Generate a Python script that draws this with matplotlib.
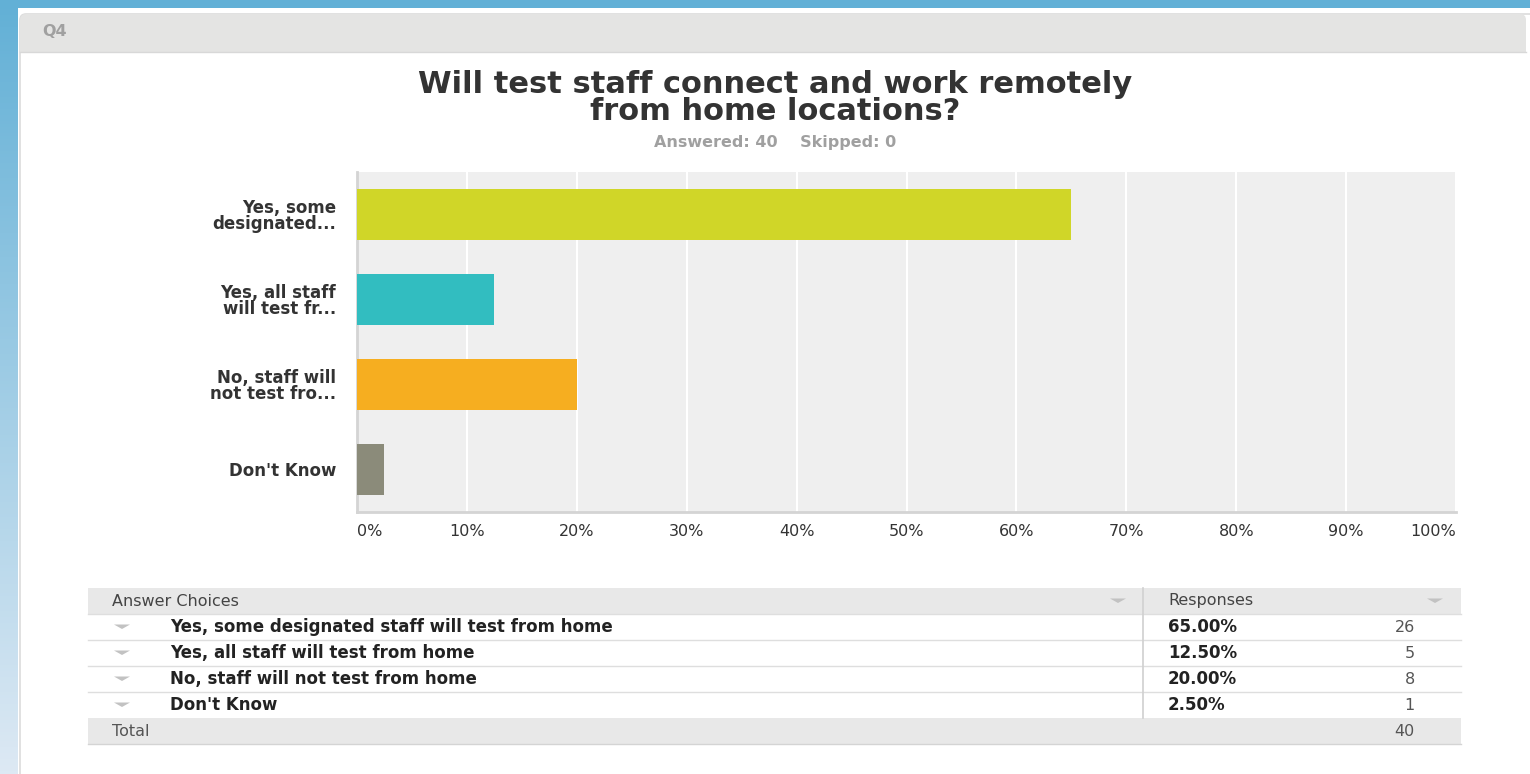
import matplotlib.pyplot as plt
import numpy as np
from matplotlib.patches import Rectangle, FancyBboxPatch, Polygon

plt.rcParams['font.family'] = 'DejaVu Sans'

# survey data
short_labels = ['Yes, some\ndesignated...', 'Yes, all staff\nwill test fr...',
                'No, staff will\nnot test fro...', "Don't Know"]
full_labels = ['Yes, some designated staff will test from home',
               'Yes, all staff will test from home',
               'No, staff will not test from home',
               "Don't Know"]
percents = [65.0, 12.5, 20.0, 2.5]
counts = [26, 5, 8, 1]
bar_colors = ['#d0d628', '#32bdc0', '#f6ae20', '#8b8b7a']
answered = 40
skipped = 0
x_ticks = [0, 10, 20, 30, 40, 50, 60, 70, 80, 90, 100]

W, H = 1530, 774
fig = plt.figure(figsize=(W / 100, H / 100), dpi=100)

# page background drawn in pixel coordinates
bg = fig.add_axes([0, 0, 1, 1])
bg.set_xlim(0, W)
bg.set_ylim(H, 0)
bg.axis('off')

grad = np.linspace(0, 1, 256).reshape(-1, 1)
c_top = np.array([0x62, 0xb0, 0xd6]) / 255
c_bot = np.array([0xdd, 0xe9, 0xf4]) / 255
img = c_top + (c_bot - c_top) * grad[:, :, None]
bg.imshow(img, extent=[0, 18, H, 0], aspect='auto', zorder=0)
bg.add_patch(Rectangle((0, 0), W, 8, color='#62b0d6', zorder=1, lw=0))

# question card
bg.add_patch(FancyBboxPatch((20, 14), W + 20, H + 20, boxstyle='round,pad=0,rounding_size=6',
                            fc='white', ec='#dcdcdc', lw=1.2, zorder=1))
bg.add_patch(FancyBboxPatch((20, 14), W - 24, 38, boxstyle='round,pad=0,rounding_size=6',
                            fc='#e4e4e3', ec='none', zorder=2))
bg.add_patch(Rectangle((20, 30), W - 24, 22, fc='#e4e4e3', ec='none', zorder=2))
bg.plot([20, W - 4], [52, 52], color='#d8d8d8', lw=1, zorder=3)
bg.text(42, 32, 'Q4', fontsize=11.5, fontweight='bold', color='#a0a0a0', va='center', zorder=4)

bg.text(775, 98, 'Will test staff connect and work remotely\nfrom home locations?',
        ha='center', va='center', fontsize=22, fontweight='bold', color='#333333',
        linespacing=0.92, zorder=4)
bg.text(775, 143, f'Answered: {answered}    Skipped: {skipped}', ha='center', va='center',
        fontsize=11.5, fontweight='bold', color='#a0a0a0', zorder=4)

# bar chart
ax = fig.add_axes([357 / W, 1 - 512 / H, 1099 / W, 340 / H])
ax.set_facecolor('#efefef')
y = np.arange(len(percents))
ax.barh(y, percents, height=0.61, color=bar_colors, zorder=3)
ax.set_xlim(0, 100)
ax.set_ylim(len(percents) - 0.5, -0.5)
ax.set_xticks(x_ticks)
ax.set_xticklabels([f'{t}%' for t in x_ticks], fontsize=11.5, color='#333333')
ax.set_yticks(y)
ax.set_yticklabels(short_labels, fontsize=12, fontweight='bold', color='#333333',
                   linespacing=0.88)
ax.grid(axis='x', color='white', lw=1.5, zorder=1)
ax.tick_params(axis='both', length=0)
ax.tick_params(axis='x', pad=9)
ax.tick_params(axis='y', pad=15)
xt = ax.get_xticklabels()
xt[0].set_ha('left')
xt[-1].set_ha('right')
for s in ['top', 'right']:
    ax.spines[s].set_visible(False)
for s in ['left', 'bottom']:
    ax.spines[s].set_color('#d4d4d4')
    ax.spines[s].set_linewidth(2)

# response table
tx0, tx1, div = 88, 1461, 1143
row_h = 26
top = 588


def arrow(x, yc):
    bg.add_patch(Polygon([[x - 8, yc - 2.5], [x + 8, yc - 2.5], [x, yc + 2]], closed=True,
                         fc='#c2c2c2', ec='none', zorder=4))


bg.add_patch(Rectangle((tx0, top), tx1 - tx0, row_h, fc='#e8e8e8', ec='none', zorder=2))
bg.text(112, top + row_h / 2, 'Answer Choices', fontsize=11.5, color='#444444', va='center', zorder=4)
bg.text(1168, top + row_h / 2, 'Responses', fontsize=11.5, color='#444444', va='center', zorder=4)
arrow(1118, top + row_h / 2)
arrow(1435, top + row_h / 2)

for i, (lab, p, n) in enumerate(zip(full_labels, percents, counts)):
    yc = top + row_h * (i + 1) + row_h / 2
    arrow(122, yc)
    bg.text(170, yc, lab, fontsize=12, fontweight='bold', color='#222222', va='center', zorder=4)
    bg.text(1168, yc, f'{p:.2f}%', fontsize=12, fontweight='bold', color='#222222',
            va='center', zorder=4)
    bg.text(1415, yc, str(n), fontsize=11.5, color='#555555', va='center', ha='right', zorder=4)
    bg.plot([tx0, tx1], [top + row_h * (i + 1), top + row_h * (i + 1)], color='#dedede',
            lw=1, zorder=3)

total_y = top + row_h * (len(counts) + 1)
bg.add_patch(Rectangle((tx0, total_y), tx1 - tx0, row_h, fc='#e8e8e8', ec='none', zorder=2))
bg.plot([tx0, tx1], [total_y + row_h, total_y + row_h], color='#d4d4d4', lw=1, zorder=3)
bg.text(112, total_y + row_h / 2, 'Total', fontsize=11.5, color='#555555', va='center', zorder=4)
bg.text(1415, total_y + row_h / 2, str(sum(counts)), fontsize=11.5, color='#555555',
        va='center', ha='right', zorder=4)
bg.plot([div, div], [top, total_y], color='#d0d0d0', lw=1.2, zorder=3)

fig.savefig('out.png', dpi=100)
